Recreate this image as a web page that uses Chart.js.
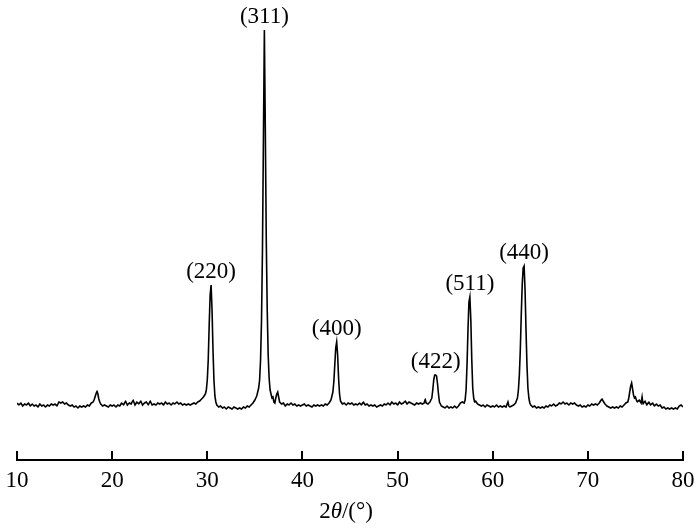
<!DOCTYPE html>
<html>
<head>
<meta charset="utf-8">
<script src="https://cdn.jsdelivr.net/npm/chart.js@4.4.1/dist/chart.umd.min.js"></script>
<style>
  html, body { margin: 0; padding: 0; background: #fff; }
  #wrap { position: relative; width: 700px; height: 529px; }
</style>
</head>
<body>
<div id="wrap"><canvas id="xrd" width="700" height="529"></canvas></div>
<script>
// XRD scan: [2theta, intensity (a.u.)]
const scan10to29 = [
  [10.0,57],[10.2,55],[10.4,57],[10.6,54],[10.8,56],[11.0,55],[11.2,57],[11.4,54],[11.6,56],[11.8,54],
  [12.0,55],[12.2,53],[12.4,56],[12.6,54],[12.8,55],[13.0,53],[13.2,55],[13.4,54],[13.6,56],[13.8,55],
  [14.0,56],[14.2,54],[14.4,58],[14.6,57],[14.8,58],[15.0,56],[15.2,57],[15.4,55],[15.6,54],[15.8,55],
  [16.0,53],[16.2,54],[16.4,52],[16.6,54],[16.8,53],[17.0,54],[17.2,53],[17.4,55],[17.6,54],[17.8,57],
  [18.0,58],[18.1,60],[18.2,63],[18.3,66],[18.4,69],[18.5,66],[18.6,61],[18.7,58],[18.8,56],[19.0,54],
  [19.2,55],[19.4,54],[19.6,53],[19.8,55],[20.0,54],[20.2,55],[20.4,53],[20.6,55],[20.8,54],[21.0,57],
  [21.2,55],[21.4,59],[21.6,55],[21.8,57],[22.0,56],[22.2,60],[22.4,55],[22.6,58],[22.8,56],[23.0,59],
  [23.2,55],[23.4,57],[23.6,58],[23.8,55],[24.0,59],[24.2,55],[24.4,56],[24.6,55],[24.8,57],[25.0,56],
  [25.2,57],[25.4,55],[25.6,58],[25.8,56],[26.0,57],[26.2,55],[26.4,57],[26.6,56],[26.8,58],[27.0,56],
  [27.2,57],[27.4,55],[27.6,56],[27.8,55],[28.0,56],[28.2,55],[28.4,56],[28.6,57],[28.8,56]
];
const scan29to46 = [
  [29.0,58],[29.2,59],[29.4,61],[29.6,63],[29.8,66],[29.9,70],[30.0,80],[30.1,100],[30.2,135],[30.3,165],
  [30.4,175],[30.5,150],[30.6,110],[30.7,80],[30.8,64],[30.9,58],[31.0,55],[31.2,53],[31.4,54],[31.6,52],
  [31.8,53],[32.0,51],[32.2,53],[32.4,52],[32.6,51],[32.8,53],[33.0,52],[33.2,51],[33.4,52],[33.6,51],
  [33.8,53],[34.0,52],[34.2,54],[34.4,53],[34.6,55],[34.8,57],[35.0,60],[35.2,64],[35.4,72],[35.5,80],
  [35.6,100],[35.7,140],[35.8,210],[35.9,320],[36.0,430],[36.1,330],[36.2,220],[36.3,150],[36.4,105],[36.5,82],
  [36.6,70],[36.7,66],[36.8,62],[36.9,63],[37.0,58],[37.1,57],[37.2,62],[37.3,66],[37.4,68],[37.5,63],
  [37.6,58],[37.8,56],[38.0,57],[38.2,54],[38.4,56],[38.6,55],[38.8,57],[39.0,55],[39.2,56],[39.4,54],
  [39.6,55],[39.8,54],[40.0,55],[40.2,56],[40.4,54],[40.6,55],[40.8,54],[41.0,53],[41.2,55],[41.4,54],
  [41.6,55],[41.8,54],[42.0,55],[42.2,54],[42.4,56],[42.6,55],[42.8,57],[43.0,60],[43.2,68],[43.3,78],
  [43.4,95],[43.5,112],[43.6,118],[43.7,105],[43.8,82],[43.9,66],[44.0,59],[44.2,56],[44.4,57],[44.6,55],
  [44.8,57],[45.0,56],[45.2,57],[45.4,55],[45.6,56],[45.8,55]
];
const scan46to64 = [
  [46.0,57],[46.2,55],[46.4,58],[46.6,55],[46.8,56],[47.0,54],[47.2,55],[47.4,54],[47.6,55],[47.8,53],
  [48.0,54],[48.2,55],[48.4,54],[48.6,56],[48.8,55],[49.0,57],[49.2,55],[49.4,58],[49.6,56],[49.8,57],
  [50.0,55],[50.2,58],[50.4,56],[50.6,57],[50.8,59],[51.0,56],[51.2,58],[51.4,57],[51.6,56],[51.8,55],
  [52.0,57],[52.2,56],[52.4,57],[52.6,56],[52.8,57],[52.9,61],[53.0,57],[53.2,56],[53.4,58],[53.6,62],
  [53.7,70],[53.8,80],[53.9,85],[54.0,85],[54.1,84],[54.2,76],[54.3,66],[54.4,58],[54.6,54],[54.8,53],
  [55.0,52],[55.2,54],[55.4,52],[55.6,53],[55.8,52],[56.0,54],[56.2,52],[56.4,54],[56.6,57],[56.8,58],
  [57.0,57],[57.1,60],[57.2,70],[57.3,95],[57.4,130],[57.5,158],[57.6,163],[57.7,140],[57.8,100],[57.9,72],
  [58.0,62],[58.1,58],[58.2,59],[58.4,56],[58.6,55],[58.8,54],[59.0,55],[59.2,53],[59.4,55],[59.6,54],
  [59.8,53],[60.0,54],[60.2,53],[60.4,55],[60.6,53],[60.8,54],[61.0,53],[61.2,54],[61.4,53],[61.6,58],
  [61.7,54],[61.8,53],[62.0,54],[62.2,55],[62.4,57],[62.6,62],[62.7,70],[62.8,85],[62.9,110],[63.0,145],
  [63.1,175],[63.2,192],[63.3,194],[63.4,170],[63.5,130],[63.6,95],[63.7,72],[63.8,62],[63.9,57]
];
const scan64to80 = [
  [64.0,55],[64.2,53],[64.4,54],[64.6,52],[64.8,53],[65.0,52],[65.2,53],[65.4,52],[65.6,54],[65.8,53],
  [66.0,55],[66.2,54],[66.4,56],[66.6,54],[66.8,55],[67.0,57],[67.2,56],[67.4,58],[67.6,56],[67.8,57],
  [68.0,55],[68.2,57],[68.4,56],[68.6,57],[68.8,55],[69.0,54],[69.2,55],[69.4,53],[69.6,54],[69.8,53],
  [70.0,55],[70.2,54],[70.4,56],[70.6,55],[70.8,56],[71.0,55],[71.2,57],[71.4,60],[71.5,61],[71.6,59],
  [71.8,56],[72.0,54],[72.2,53],[72.4,52],[72.6,53],[72.8,52],[73.0,53],[73.2,52],[73.4,54],[73.6,53],
  [73.8,55],[74.0,57],[74.2,58],[74.3,62],[74.4,68],[74.5,74],[74.6,77],[74.7,71],[74.8,65],[74.9,62],
  [75.0,63],[75.1,60],[75.2,58],[75.4,60],[75.6,57],[75.7,63],[75.8,56],[76.0,59],[76.2,55],[76.4,58],
  [76.6,55],[76.8,57],[77.0,54],[77.2,56],[77.4,54],[77.6,55],[77.8,52],[78.0,53],[78.2,51],[78.4,52],
  [78.6,51],[78.8,52],[79.0,51],[79.2,52],[79.4,51],[79.6,54],[79.8,55],[80.0,53]
];

// peak indexing
const peakLabels = ['(220)', '(311)', '(400)', '(422)', '(511)', '(440)'];
const peakTheta = [30.4, 36.0, 43.6, 54.0, 57.6, 63.3];
const peakHeight = [175, 430, 118, 85, 163, 194];

const xTicks = [10, 20, 30, 40, 50, 60, 70, 80];

const serif = '"Liberation Serif", "Times New Roman", serif';

const peakLabelPlugin = {
  id: 'peakLabels',
  afterDatasetsDraw(chart) {
    const { ctx, scales: { x, y } } = chart;
    ctx.save();
    ctx.fillStyle = '#000';
    ctx.font = '23px ' + serif;
    ctx.textAlign = 'center';
    ctx.textBaseline = 'alphabetic';
    peakLabels.forEach((lbl, i) => {
      ctx.fillText(lbl, x.getPixelForValue(peakTheta[i]), y.getPixelForValue(peakHeight[i]) - 7);
    });
    ctx.restore();
  }
};

// x axis title "2θ/(°)" with italic theta
const axisTitlePlugin = {
  id: 'axisTitle',
  afterDraw(chart) {
    const { ctx, chartArea } = chart;
    const parts = [
      { t: '2', f: '23px ' + serif },
      { t: 'θ', f: 'italic 23px ' + serif },
      { t: '/(°)', f: '23px ' + serif }
    ];
    ctx.save();
    ctx.fillStyle = '#000';
    ctx.textBaseline = 'alphabetic';
    let total = 0;
    parts.forEach(p => { ctx.font = p.f; p.w = ctx.measureText(p.t).width; total += p.w; });
    let cx = (chartArea.left + chartArea.right) / 2 - 4 - total / 2;
    parts.forEach(p => {
      ctx.font = p.f;
      ctx.fillText(p.t, cx, 518);
      cx += p.w;
    });
    ctx.restore();
  }
};

new Chart(document.getElementById('xrd'), {
  type: 'line',
  data: {
    datasets: [{
      data: [...scan10to29, ...scan29to46, ...scan46to64, ...scan64to80],
      borderColor: '#000',
      borderWidth: 1.6,
      pointRadius: 0,
      tension: 0.001, // keeps every point (no fast-path column merging)
      fill: false
    }]
  },
  options: {
    responsive: false,
    animation: false,
    devicePixelRatio: 1,
    layout: { padding: { left: 17, right: 17, top: 20, bottom: 0 } },
    plugins: {
      legend: { display: false },
      tooltip: { enabled: false }
    },
    scales: {
      x: {
        type: 'linear',
        min: 10,
        max: 80,
        afterFit(scale) {
          scale.height = 69;
          scale.paddingLeft = 0;
          scale.paddingRight = 0;
        },
        afterBuildTicks(scale) { scale.ticks = xTicks.map(v => ({ value: v })); },
        border: { display: true, color: '#000', width: 2 },
        grid: { display: true, drawOnChartArea: false, drawTicks: true, tickLength: -9, color: '#000', lineWidth: 2 },
        ticks: { color: '#000', padding: 16, maxRotation: 0, font: { family: serif, size: 23 } }
      },
      y: {
        display: false,
        min: 0,
        max: 440
      }
    }
  },
  plugins: [peakLabelPlugin, axisTitlePlugin]
});
</script>
</body>
</html>
